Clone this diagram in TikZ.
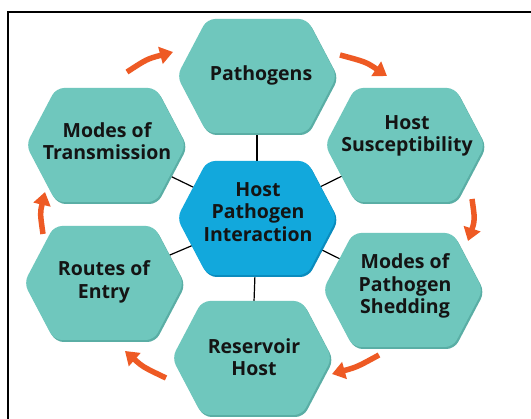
\documentclass[tikz,border=0pt]{standalone}
\usepackage{fontspec}
\setmainfont{Open Sans}
\usetikzlibrary{arrows.meta,backgrounds}
\definecolor{teal1}{HTML}{6FC7BD}
\definecolor{tealrim}{HTML}{5AAEA5}
\definecolor{blue1}{HTML}{12A8DC}
\definecolor{bluerim}{HTML}{0A8CBE}
\definecolor{arr}{HTML}{EE5A24}
\definecolor{txt}{HTML}{141414}
\tikzset{
  pics/hexa/.style 2 args={code={
    \fill[#2,rounded corners=8pt] (-78.5,2) -- (-48.5,-55) -- (51.5,-55) -- (81.5,2) -- (51.5,59) -- (-48.5,59) -- cycle;
    \fill[#1,rounded corners=8pt] (-80,0) -- (-50,-57) -- (50,-57) -- (80,0) -- (50,57) -- (-50,57) -- cycle;
  }},
  lbl/.style={font=\fontsize{19.5}{22.5}\selectfont\bfseries, align=center, text=txt, inner sep=0pt},
  link/.style={draw=black, line width=1.2pt},
  cyc/.style={draw=arr, line width=5.5pt, -{Triangle[width=17pt,length=13pt]}},
  frame/.style={draw=black, line width=1.5pt},
}
\begin{document}
\begin{tikzpicture}[x=1pt,y=-1pt]
\useasboundingbox (0,0) rectangle (531,419);
% hexagon centres
\coordinate (cP) at (257,76);
\coordinate (cHS) at (405,145);
\coordinate (cMT) at (106,145);
\coordinate (cC) at (257,218);
\coordinate (cRE) at (104,283);
\coordinate (cMS) at (403,290);
\coordinate (cRH) at (252,358);
% labels
\node[lbl] (tP) at (261,75) {Pathogens};
\node[lbl] (tHS) at (407,136) {Host\\Susceptibility};
\node[lbl] (tMT) at (107,141) {Modes of\\Transmission};
\node[lbl] (tC) at (258,212) {Host\\Pathogen\\Interaction};
\node[lbl] (tRE) at (104,282) {Routes of\\Entry};
\node[lbl] (tMS) at (405,286) {Modes of\\Pathogen\\Shedding};
\node[lbl] (tRH) at (254,357) {Reservoir\\Host};
\begin{scope}[on background layer]
  \fill[white] (0,0) rectangle (531,419);
  \foreach \o in {cP,cHS,cMT,cRE,cMS,cRH} \draw[link] (cC) -- (\o);
  \pic at (cP) {hexa={teal1}{tealrim}};
  \pic at (cHS) {hexa={teal1}{tealrim}};
  \pic at (cMT) {hexa={teal1}{tealrim}};
  \pic at (cRE) {hexa={teal1}{tealrim}};
  \pic at (cMS) {hexa={teal1}{tealrim}};
  \pic at (cRH) {hexa={teal1}{tealrim}};
  \pic at (cC) {hexa={blue1}{bluerim}};
\end{scope}
% cycle arrows
\coordinate (a1s) at (127,72); \coordinate (a1e) at (173,52);
\coordinate (a2s) at (340,55); \coordinate (a2e) at (387,76);
\coordinate (a3s) at (472,199); \coordinate (a3e) at (468,241);
\coordinate (a4s) at (379,355); \coordinate (a4e) at (332,374);
\coordinate (a5s) at (166,378); \coordinate (a5e) at (125,351);
\coordinate (a6s) at (43,234); \coordinate (a6e) at (45,192);
\draw[cyc] (a1s) .. controls (147,59) .. (a1e);
\draw[cyc] (a2s) .. controls (366,62) .. (a2e);
\draw[cyc] (a3s) .. controls (475,220) .. (a3e);
\draw[cyc] (a4s) .. controls (357,367) .. (a4e);
\draw[cyc] (a5s) .. controls (143,367) .. (a5e);
\draw[cyc] (a6s) .. controls (40,213) .. (a6e);
% frame
\coordinate (fb) at (8,419);
\coordinate (ft) at (8,12);
\coordinate (fr) at (531,12);
\draw[frame] (fb) -- (ft) -- (fr);
\end{tikzpicture}
\end{document}
